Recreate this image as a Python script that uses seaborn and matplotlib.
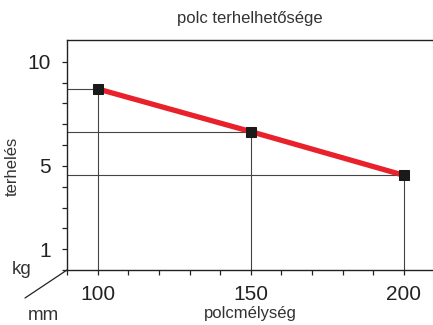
import numpy as np
import pandas as pd
import seaborn as sns
import matplotlib.pyplot as plt
from matplotlib.lines import Line2D
from matplotlib.ticker import MultipleLocator, FixedLocator

# shelf depth (mm) and load (kg)
depth = [100, 150, 200]
load = [8.7, 6.65, 4.55]
x_ticks = [100, 150, 200]
y_ticks = [1, 5, 10]

W, H = 433, 325
DPI = 100

sns.set_style("white")
plt.rcParams["font.family"] = ["Liberation Sans", "DejaVu Sans"]

df = pd.DataFrame({"depth": depth, "load": load})

fig = plt.figure(figsize=(W / DPI, H / DPI), dpi=DPI)
ax = fig.add_axes([67 / W, 1 - 270 / H, 1 - 67 / W, 230 / H])

# guide lines from each point to the axes
for x, y in zip(depth, load):
    ax.plot([90, x], [y, y], color="#444444", lw=0.8, zorder=1)
    ax.plot([x, x], [0, y], color="#444444", lw=0.8, zorder=1)

sns.lineplot(data=df, x="depth", y="load", ax=ax, color="#e8212b", lw=3.8,
             marker="s", markersize=6.5, markerfacecolor="#1a1a1a",
             markeredgecolor="#1a1a1a", zorder=3)

ax.set_xlim(90, 209.5)
ax.set_ylim(0, 11.05)
ax.xaxis.set_major_locator(FixedLocator(x_ticks))
ax.xaxis.set_minor_locator(MultipleLocator(10))
ax.yaxis.set_major_locator(FixedLocator(y_ticks))
ax.yaxis.set_minor_locator(FixedLocator(range(0, 11)))
ax.tick_params(axis="both", which="both", direction="out", length=3.5,
               width=0.9, color="#222222", labelsize=15, labelcolor="#222222")
ax.tick_params(axis="x", which="both", bottom=True, pad=7)
ax.tick_params(axis="y", which="both", left=True, pad=8)

for side in ["left", "top", "bottom"]:
    ax.spines[side].set_color("#222222")
    ax.spines[side].set_linewidth(1.0)
ax.spines["right"].set_visible(False)

ax.set_xlabel("polcmélység", fontsize=12, color="#333333", labelpad=2)
ax.set_ylabel("terhelés", fontsize=12, color="#333333")
ax.yaxis.set_label_coords(-0.13, 0.45)
ax.set_title("polc terhelhetősége", fontsize=12, color="#333333", pad=12)

fig.text(22 / W, 1 - 270 / H, "kg", fontsize=13.5, color="#333333",
         ha="center", va="center")
fig.text(43 / W, 1 - 315 / H, "mm", fontsize=13.5, color="#333333",
         ha="center", va="center")
fig.add_artist(Line2D([25 / W, 67 / W], [1 - 298 / H, 1 - 270 / H],
                      color="#222222", lw=0.9))

fig.savefig("out.png", dpi=DPI)
